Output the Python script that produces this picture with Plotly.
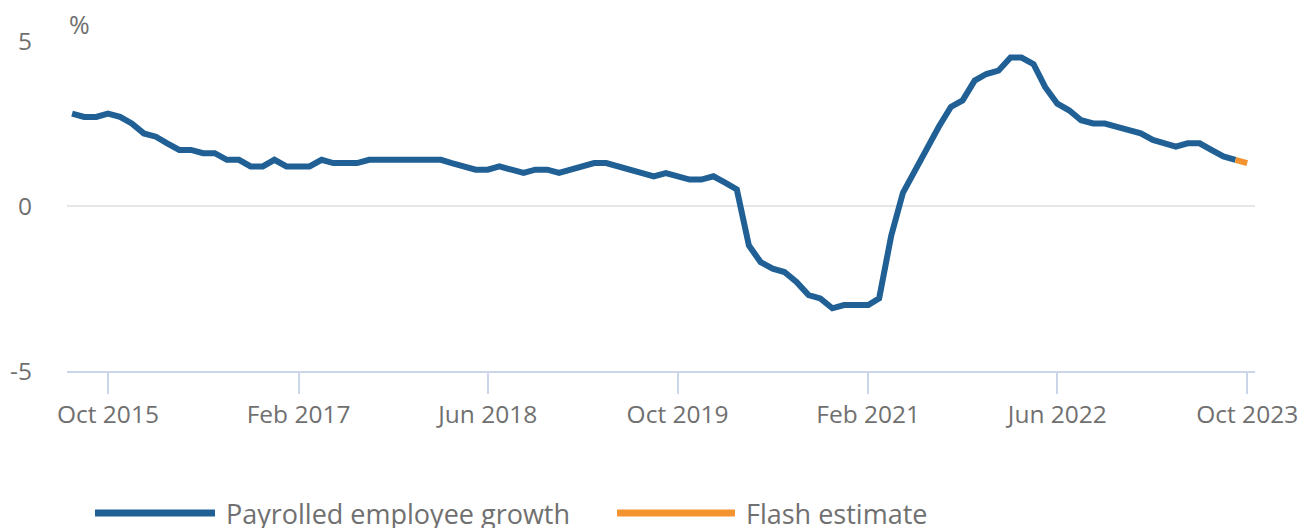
import pandas as pd
import plotly.graph_objects as go

# Payrolled employees, annual growth (%), monthly from Jul 2015
months = pd.date_range("2015-07-01", "2023-09-01", freq="MS")
growth = [
    2.8, 2.7, 2.7, 2.8, 2.7, 2.5,                          # 2015 Jul-Dec
    2.2, 2.1, 1.9, 1.7, 1.7, 1.6, 1.6, 1.4, 1.4, 1.2, 1.2, 1.4,  # 2016
    1.2, 1.2, 1.2, 1.4, 1.3, 1.3, 1.3, 1.4, 1.4, 1.4, 1.4, 1.4,  # 2017
    1.4, 1.4, 1.3, 1.2, 1.1, 1.1, 1.2, 1.1, 1.0, 1.1, 1.1, 1.0,  # 2018
    1.1, 1.2, 1.3, 1.3, 1.2, 1.1, 1.0, 0.9, 1.0, 0.9, 0.8, 0.8,  # 2019
    0.9, 0.7, 0.5, -1.2, -1.7, -1.9, -2.0, -2.3, -2.7, -2.8, -3.1, -3.0,  # 2020
    -3.0, -3.0, -2.8, -0.9, 0.4, 1.1, 1.7, 2.4, 3.0, 3.2, 3.8, 4.0,  # 2021
    4.1, 4.5, 4.5, 4.3, 3.6, 3.1, 2.9, 2.6, 2.5, 2.5, 2.4, 2.3,  # 2022
    2.2, 2.0, 1.9, 1.8, 1.9, 1.9, 1.7, 1.5, 1.4,               # 2023 Jan-Sep
]

flash_months = ["2023-09-01", "2023-10-01"]
flash = [1.4, 1.3]

tick_dates = ["2015-10-01", "2017-02-01", "2018-06-01", "2019-10-01",
              "2021-02-01", "2022-06-01", "2023-10-01"]
tick_text = ["Oct 2015", "Feb 2017", "Jun 2018", "Oct 2019",
             "Feb 2021", "Jun 2022", "Oct 2023"]
y_ticks = [-5, 0, 5]
y_text = ["-5", "0", "5"]

BLUE = "#206095"
ORANGE = "#f39431"
TEXT = "#707070"

fig = go.Figure()
fig.add_trace(go.Scatter(x=months, y=growth, mode="lines", name="Payrolled employee growth",
                         line=dict(color=BLUE, width=6)))
fig.add_trace(go.Scatter(x=flash_months, y=flash, mode="lines", name="Flash estimate",
                         line=dict(color=ORANGE, width=6)))

W, H = 1301, 528
L, R, T, B = 67, 46, 41, 157
pw, ph = W - L - R, H - T - B
# plot area in pixels: x 67..1255, y 41..371
def px(x):
    return (x - L) / pw

def py(y):
    return (H - B - y) / ph

# legend drawn by hand (long keys like the original)
legend_items = [("Payrolled employee growth", BLUE, 95, 215, 224),
                ("Flash estimate", ORANGE, 617, 735, 744)]
for label, col, x0, x1, xt in legend_items:
    fig.add_shape(type="line", xref="paper", yref="paper",
                  x0=px(x0), x1=px(x1), y0=py(513), y1=py(513),
                  line=dict(color=col, width=7))
    fig.add_annotation(text=label, xref="paper", yref="paper", x=px(xt), y=py(513),
                       xanchor="left", yanchor="middle", showarrow=False,
                       font=dict(size=27, color=TEXT))

fig.add_annotation(text="%", xref="paper", yref="paper", x=0, y=1, xanchor="left",
                   yanchor="bottom", yshift=-2, showarrow=False,
                   font=dict(size=25, color=TEXT))

fig.update_layout(
    width=W, height=H,
    margin=dict(l=L, r=R, t=T, b=B),
    paper_bgcolor="white", plot_bgcolor="white",
    font=dict(family="Open Sans", size=24.5, color=TEXT),
    showlegend=False,
    xaxis=dict(range=["2015-06-18", "2023-10-21"], tickvals=tick_dates, ticktext=tick_text,
               showgrid=False, zeroline=False, showline=True, linecolor="#ccd6eb", linewidth=2,
               ticks="outside", ticklen=21, tickwidth=2, tickcolor="#ccd6eb",
               tickfont=dict(size=24.5, color=TEXT), automargin=False),
    yaxis=dict(range=[-5, 5], tickvals=y_ticks, ticktext=y_text, showgrid=True,
               gridcolor="#e6e6e6", gridwidth=2, zeroline=False, showline=False, ticks="",
               ticklabelstandoff=34, tickfont=dict(size=24.5, color=TEXT), automargin=False),
)

# drop the default body margin so the figure fills the window exactly
fig.write_html("out.html", config={"displayModeBar": False},
               post_script="document.body.style.margin='0';")
